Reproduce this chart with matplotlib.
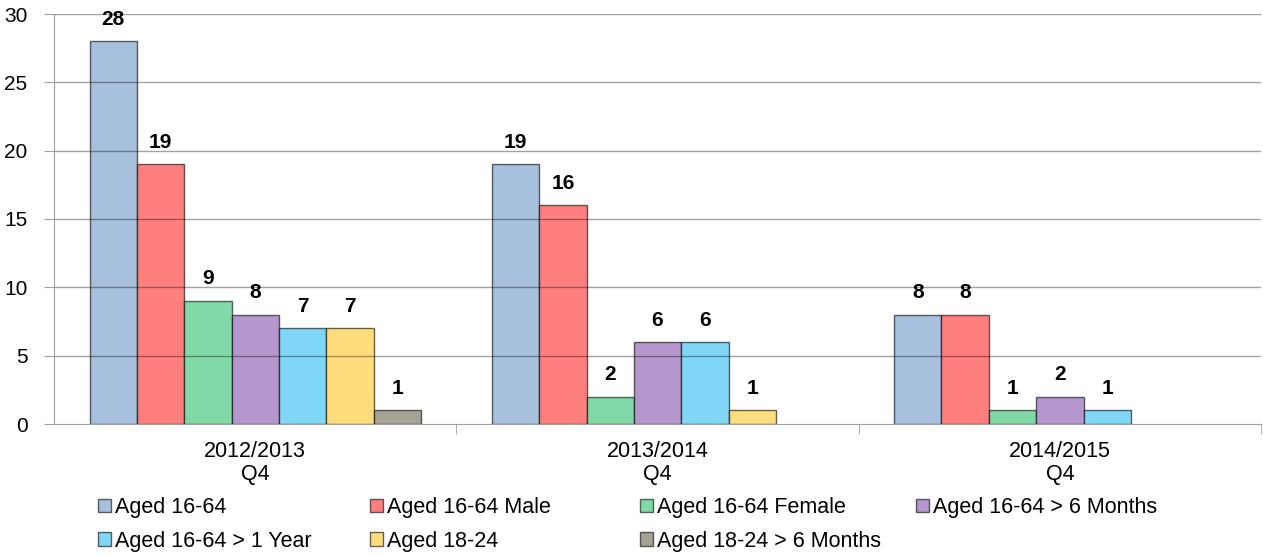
import matplotlib
matplotlib.use("Agg")
import matplotlib.pyplot as plt
import numpy as np

plt.rcParams['font.family'] = ['Liberation Sans', 'DejaVu Sans']

categories = ["2012/2013\nQ4", "2013/2014\nQ4", "2014/2015\nQ4"]
series_names = ["Aged 16-64", "Aged 16-64 Male", "Aged 16-64 Female",
                "Aged 16-64 > 6 Months", "Aged 16-64 > 1 Year", "Aged 18-24",
                "Aged 18-24 > 6 Months"]
aged_16_64 = [28, 19, 8]
aged_16_64_male = [19, 16, 8]
aged_16_64_female = [9, 2, 1]
aged_16_64_6m = [8, 6, 2]
aged_16_64_1y = [7, 6, 1]
aged_18_24 = [7, 1, 0]
aged_18_24_6m = [1, 0, 0]
series_values = [aged_16_64, aged_16_64_male, aged_16_64_female, aged_16_64_6m,
                 aged_16_64_1y, aged_18_24, aged_18_24_6m]
colors = ["#A7C0DE", "#FF7F7F", "#82D9A8", "#B597CE", "#80D6F7", "#FFDD7F", "#A6A396"]
edge = (0, 0, 0, 0.6)

fig = plt.figure(figsize=(12.63, 5.57), dpi=100)
ax = fig.add_axes([54 / 1263, 1 - 424 / 557, (1261 - 54) / 1263, (424 - 14) / 557])

n = len(series_names)
width = 1 / (n + 1.5)
x = np.arange(len(categories))
handles = []
for i, (name, vals) in enumerate(zip(series_names, series_values)):
    pos = x - (n - 1) / 2 * width + i * width
    bars = ax.bar(pos, vals, width, color=colors[i], edgecolor=edge,
                  linewidth=1.0, label=name, zorder=2)
    handles.append(bars)
    for b, v in zip(bars, vals):
        if v > 0:
            ax.annotate(str(v), (b.get_x() + b.get_width() / 2, v),
                        xytext=(0, 9), textcoords="offset points",
                        ha="center", va="bottom", fontsize=15,
                        fontweight="bold", zorder=5)
        else:
            b.set_linewidth(0)

# gridlines drawn over the bars, semi-transparent like the original
for yv in range(5, 31, 5):
    ax.axhline(yv, color=(0, 0, 0, 0.37), linewidth=1, zorder=3)

ax.set_xlim(-0.5, len(categories) - 0.5)
ax.set_ylim(0, 30)
ax.set_yticks(range(0, 31, 5))
ax.tick_params(axis="y", labelsize=15, length=7, color="#A0A0A0", pad=12)
ax.set_xticks(x)
ax.set_xticklabels(categories, fontsize=15.5, linespacing=1.12)
ax.tick_params(axis="x", length=0, pad=12)
ax.set_xticks([0.5, 1.5, 2.5], minor=True)
ax.tick_params(axis="x", which="minor", length=7, color="#A0A0A0")
for s in ["top", "right"]:
    ax.spines[s].set_visible(False)
ax.spines["left"].set_color("#A0A0A0")
ax.spines["bottom"].set_color("#A0A0A0")
ax.spines["left"].set_zorder(4)
ax.spines["bottom"].set_zorder(4)

# legend: four columns at equal spacing, filled row by row
col_x = [98, 370, 640, 916]
for c, cx in enumerate(col_x):
    idx = [i for i in range(n) if i % 4 == c]
    leg = fig.legend(handles=[handles[i] for i in idx],
                     labels=[series_names[i] for i in idx],
                     loc="upper left",
                     bbox_to_anchor=(cx / 1263, 1 - 497 / 557),
                     borderaxespad=0, borderpad=0, frameon=False,
                     fontsize=15.5, handlelength=0.6, handleheight=0.6,
                     handletextpad=0.2, labelspacing=0.6)

fig.savefig("out.png", dpi=100)
